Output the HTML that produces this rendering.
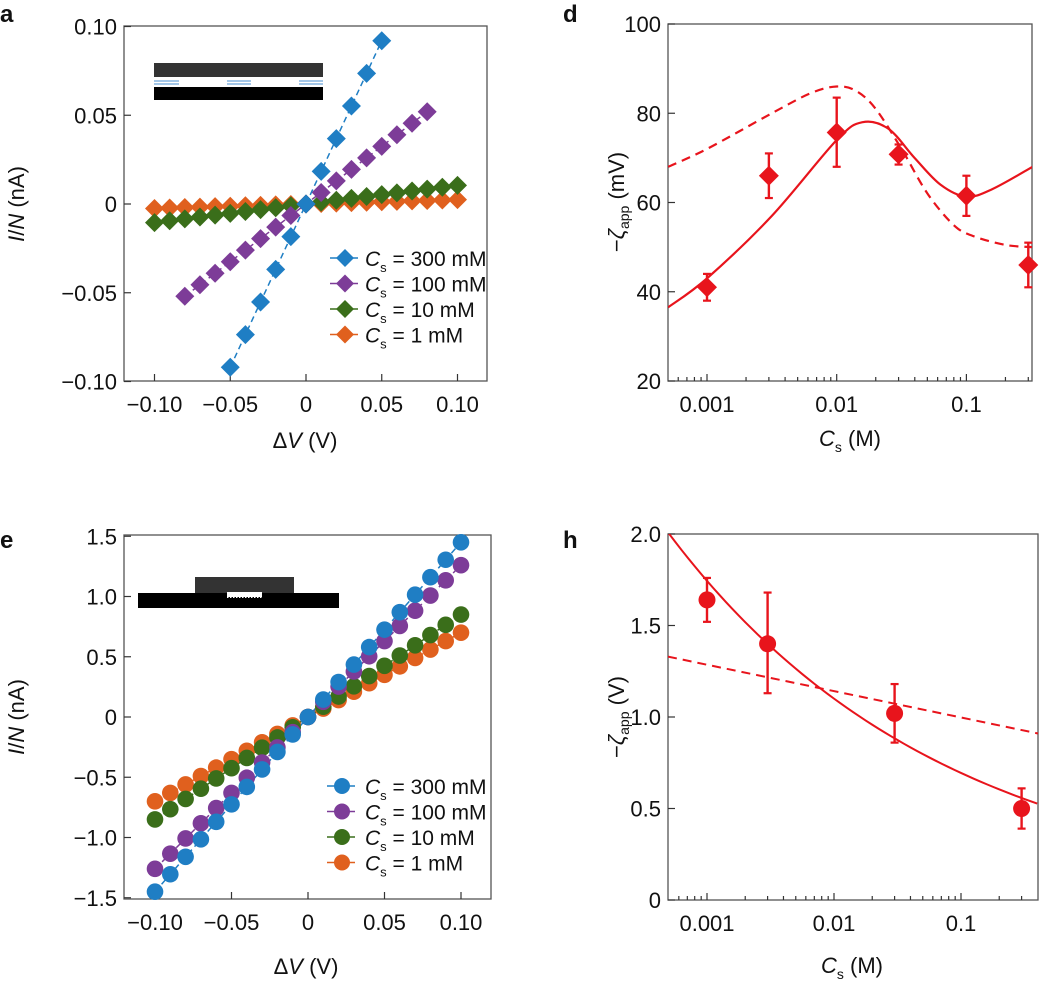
<!DOCTYPE html>
<html><head><meta charset="utf-8"><style>
html,body{margin:0;padding:0;background:#fff;}
svg{display:block;font-family:"Liberation Sans",Arial,sans-serif;}
</style></head><body>
<svg id="s" width="1039" height="983" viewBox="0 0 1039 983" xmlns="http://www.w3.org/2000/svg">
<g fill="#111">
<text x="0" y="22" font-weight="bold" font-size="24">a</text>
<text x="563" y="22" font-weight="bold" font-size="24">d</text>
<text x="0" y="548" font-weight="bold" font-size="24">e</text>
<text x="563" y="548" font-weight="bold" font-size="24">h</text>
</g>
</svg>
<script>
const S=document.getElementById('s');const NS='http://www.w3.org/2000/svg';
const FS=22;
function el(t,a,txt){const e=document.createElementNS(NS,t);for(const k in a)e.setAttribute(k,a[k]);if(txt!==undefined)e.textContent=txt;S.appendChild(e);return e;}
function frame(l,t,r,b){el('rect',{x:l,y:t,width:r-l,height:b-t,fill:'none',stroke:'#555','stroke-width':1.3});}
function ytick(l,r,y,lab){el('line',{x1:l,y1:y,x2:l+7,y2:y,stroke:'#333','stroke-width':1.2});el('text',{x:l-7,y:y+8,'text-anchor':'end','font-size':FS,fill:'#111'},lab);}
function xtick(b,x,lab,len){el('line',{x1:x,y1:b,x2:x,y2:b-(len||7),stroke:'#333','stroke-width':1.2});if(lab!==null)el('text',{x:x,y:b+31,'text-anchor':'middle','font-size':FS,fill:'#111'},lab);}
function cr(pts){let d='M'+pts[0][0]+','+pts[0][1];for(let i=0;i<pts.length-1;i++){const p0=pts[i-1]||pts[i],p1=pts[i],p2=pts[i+1],p3=pts[i+2]||p2;
const c1=[p1[0]+(p2[0]-p0[0])/6,p1[1]+(p2[1]-p0[1])/6],c2=[p2[0]-(p3[0]-p1[0])/6,p2[1]-(p3[1]-p1[1])/6];
d+=' C'+c1.join(',')+' '+c2.join(',')+' '+p2.join(',');}return d;}
const cols=['#1f7ec4','#7d3c98','#3a6e1a','#e0601e'];
function diamond(x,y,c,s){el('path',{d:`M${x},${y-s}L${x+s},${y}L${x},${y+s}L${x-s},${y}Z`,fill:c});}
function leg(x,y,s){const tx=el('text',{x:x,y:y+8,'font-size':21,fill:'#111'});tx.innerHTML=`<tspan font-style="italic">C</tspan><tspan font-size="13" dy="6">s</tspan><tspan dy="-6"> = ${s}</tspan>`;}
// ---- panel a
{const l=124,t=26,r=487,b=381;const X=v=>306+v*1515,Y=v=>204-v*1775;
frame(l,t,r,b);
[[0.10,'0.10'],[0.05,'0.05'],[0,'0'],[-0.05,'\u22120.05'],[-0.10,'\u22120.10']].forEach(a=>ytick(l,r,Y(a[0]),a[1]));
[[-0.1,'\u22120.10'],[-0.05,'\u22120.05'],[0,'0'],[0.05,'0.05'],[0.1,'0.10']].forEach(a=>xtick(b,X(a[0]),a[1]));
el('rect',{x:154,y:63,width:169,height:14,fill:'#333'});
[[154,179],[227,251],[299,323]].forEach(p=>{[81,84].forEach(y=>el('line',{x1:p[0],y1:y,x2:p[1],y2:y,stroke:'#4a8fd0','stroke-width':1}))});
el('rect',{x:154,y:87,width:169,height:13,fill:'#000'});
const sets=[[1.84,-0.05,0.05],[0.65,-0.08,0.08],[0.105,-0.1,0.1],[0.025,-0.1,0.1]];
for(let k=3;k>=0;k--){const [m,a,bb]=sets[k];el('line',{x1:X(a),y1:Y(m*a),x2:X(bb),y2:Y(m*bb),stroke:cols[k],'stroke-width':1.5,'stroke-dasharray':'6,4'});
for(let i=Math.round(a*100);i<=Math.round(bb*100);i++){const v=i/100;diamond(X(v),Y(m*v),cols[k],9.5);}}
['300 mM','100 mM','10 mM','1 mM'].forEach((s,i)=>{const y=258+i*25.5;el('line',{x1:330,y1:y,x2:358,y2:y,stroke:cols[i],'stroke-width':1.5});diamond(345,y,cols[i],9);leg(365,y,s);});
const yl=el('text',{transform:'translate(24,204) rotate(-90)','text-anchor':'middle','font-size':FS,fill:'#111'});yl.innerHTML='<tspan font-style="italic">I</tspan>/<tspan font-style="italic">N</tspan> (nA)';
const xl=el('text',{x:305,y:448,'text-anchor':'middle','font-size':FS,fill:'#111'});xl.innerHTML='\u0394<tspan font-style="italic">V</tspan> (V)';}
// ---- panel e
{const l=124,t=535,r=491,b=899;const X=v=>308+v*1530,Y=v=>717-v*120.5;
frame(l,t,r,b);
[[1.5,'1.5'],[1.0,'1.0'],[0.5,'0.5'],[0,'0'],[-0.5,'\u22120.5'],[-1.0,'\u22121.0'],[-1.5,'\u22121.5']].forEach(a=>ytick(l,r,Y(a[0]),a[1]));
[[-0.1,'\u22120.10'],[-0.05,'\u22120.05'],[0,'0'],[0.05,'0.05'],[0.1,'0.10']].forEach(a=>xtick(b,X(a[0]),a[1]));
el('rect',{x:138,y:593,width:201,height:15,fill:'#000'});
el('rect',{x:195,y:577,width:99,height:16,fill:'#333'});
el('rect',{x:227,y:592,width:35,height:5,fill:'#fff'});
el('line',{x1:227,y1:597,x2:262,y2:597,stroke:'#fff','stroke-width':2,'stroke-dasharray':'1.5,1.5'});
const ms=[14.5,12.6,8.5,7.0];
for(let k=3;k>=0;k--){const m=ms[k];el('line',{x1:X(-0.1),y1:Y(-0.1*m),x2:X(0.1),y2:Y(0.1*m),stroke:cols[k],'stroke-width':1.5,'stroke-dasharray':'6,4'});}
for(let k=3;k>=0;k--){const m=ms[k];for(let i=-10;i<=10;i++){const v=i/100;el('circle',{cx:X(v),cy:Y(m*v),r:8.3,fill:cols[k]});}}
['300 mM','100 mM','10 mM','1 mM'].forEach((s,i)=>{const y=786+i*25.5;el('line',{x1:327,y1:y,x2:355,y2:y,stroke:cols[i],'stroke-width':1.5});el('circle',{cx:342,cy:y,r:8,fill:cols[i]});leg(365,y,s);});
const yl=el('text',{transform:'translate(24,717) rotate(-90)','text-anchor':'middle','font-size':FS,fill:'#111'});yl.innerHTML='<tspan font-style="italic">I</tspan>/<tspan font-style="italic">N</tspan> (nA)';
const xl=el('text',{x:306,y:974,'text-anchor':'middle','font-size':FS,fill:'#111'});xl.innerHTML='\u0394<tspan font-style="italic">V</tspan> (V)';}
function logticks(b,X,lo,hi){for(let d=-4;d<=0;d++)for(let m=1;m<=9;m++){const lg=d+Math.log10(m);if(lg<lo||lg>hi)continue;xtick(b,X(lg),null,m==1?7:4);}}
const red='#e8141c';
function errpt(x,y,ylo,yhi,shape){el('line',{x1:x,y1:ylo,x2:x,y2:yhi,stroke:red,'stroke-width':2.4});
[ylo,yhi].forEach(yy=>el('line',{x1:x-4,y1:yy,x2:x+4,y2:yy,stroke:red,'stroke-width':2.2}));
if(shape=='d')diamond(x,y,red,10);else el('circle',{cx:x,cy:y,r:8.5,fill:red});}
// ---- panel d
{const l=668,t=24,r=1032,b=381;const X=lg=>707+(lg+3)*129.7,Y=v=>381-(v-20)*4.4625;
const cp=el('clipPath',{id:'cd'});const rr=document.createElementNS(NS,'rect');rr.setAttribute('x',l);rr.setAttribute('y',t);rr.setAttribute('width',r-l);rr.setAttribute('height',b-t);cp.appendChild(rr);
frame(l,t,r,b);
[[100,'100'],[80,'80'],[60,'60'],[40,'40'],[20,'20']].forEach(a=>ytick(l,r,Y(a[0]),a[1]));
logticks(b,X,-3.3,-0.49);
[[-3,'0.001'],[-2,'0.01'],[-1,'0.1']].forEach(a=>el('text',{x:X(a[0]),y:b+31,'text-anchor':'middle','font-size':FS,fill:'#111'},a[1]));
const sol=[[-3.3,36.5],[-3,43],[-2.5,57],[-2,74],[-1.8,78],[-1.6,76.5],[-1.4,70],[-1.2,64],[-1,61.3],[-0.8,63],[-0.49,68]].map(p=>[X(p[0]),Y(p[1])]);
const das=[[-3.3,68],[-3,72],[-2.5,80],[-2.2,84.5],[-2,86],[-1.85,85],[-1.7,81],[-1.5,72],[-1.3,62],[-1.1,55],[-0.95,52.5],[-0.7,50.5],[-0.49,50]].map(p=>[X(p[0]),Y(p[1])]);
el('path',{d:cr(sol),fill:'none',stroke:red,'stroke-width':2.2,'clip-path':'url(#cd)'});
el('path',{d:cr(das),fill:'none',stroke:red,'stroke-width':2.2,'stroke-dasharray':'9,6','clip-path':'url(#cd)'});
[[0.001,41,38,44],[0.003,66,61,71],[0.01,75.7,68,83.5],[0.03,70.8,68.5,73],[0.1,61.5,57,66],[0.3,46,41,51]].forEach(p=>errpt(X(Math.log10(p[0])),Y(p[1]),Y(p[2]),Y(p[3]),'d'));
const yl=el('text',{transform:'translate(624,202) rotate(-90)','text-anchor':'middle','font-size':FS,fill:'#111'});yl.innerHTML='\u2212<tspan font-style="italic">\u03b6</tspan><tspan font-size="14" dy="5">app</tspan><tspan dy="-5"> (mV)</tspan>';
const xl=el('text',{x:850,y:446,'text-anchor':'middle','font-size':FS,fill:'#111'});xl.innerHTML='<tspan font-style="italic">C</tspan><tspan font-size="14" dy="6">s</tspan><tspan dy="-6"> (M)</tspan>';}
// ---- panel h
{const l=668,t=534,r=1038,b=900;const X=lg=>707+(lg+3)*127,Y=v=>900-v*183;
const cp=el('clipPath',{id:'ch'});const rr=document.createElementNS(NS,'rect');rr.setAttribute('x',l);rr.setAttribute('y',t);rr.setAttribute('width',r-l);rr.setAttribute('height',b-t);cp.appendChild(rr);
frame(l,t,r,b);
[[2.0,'2.0'],[1.5,'1.5'],[1.0,'1.0'],[0.5,'0.5'],[0,'0']].forEach(a=>ytick(l,r,Y(a[0]),a[1]));
logticks(b,X,-3.3,-0.4);
[[-3,'0.001'],[-2,'0.01'],[-1,'0.1']].forEach(a=>el('text',{x:X(a[0]),y:b+31,'text-anchor':'middle','font-size':FS,fill:'#111'},a[1]));
const sol=[];for(let lg=-3.3;lg<=-0.38;lg+=0.05){sol.push([X(lg),Y(1.4*Math.pow(Math.pow(10,lg)/0.003,-0.2))]);}
el('path',{d:'M'+sol.map(p=>p.join(',')).join(' L'),fill:'none',stroke:red,'stroke-width':2,'clip-path':'url(#ch)'});
el('line',{x1:l,y1:Y(1.33),x2:r,y2:Y(0.91),stroke:red,'stroke-width':2,'stroke-dasharray':'9,6'});
[[0.001,1.64,1.52,1.76],[0.003,1.40,1.13,1.68],[0.03,1.02,0.86,1.18],[0.3,0.50,0.39,0.61]].forEach(p=>errpt(X(Math.log10(p[0])),Y(p[1]),Y(p[2]),Y(p[3]),'c'));
const yl=el('text',{transform:'translate(624,717) rotate(-90)','text-anchor':'middle','font-size':FS,fill:'#111'});yl.innerHTML='\u2212<tspan font-style="italic">\u03b6</tspan><tspan font-size="14" dy="5">app</tspan><tspan dy="-5"> (V)</tspan>';
const xl=el('text',{x:852,y:973,'text-anchor':'middle','font-size':FS,fill:'#111'});xl.innerHTML='<tspan font-style="italic">C</tspan><tspan font-size="14" dy="6">s</tspan><tspan dy="-6"> (M)</tspan>';}
</script>
</body></html>
